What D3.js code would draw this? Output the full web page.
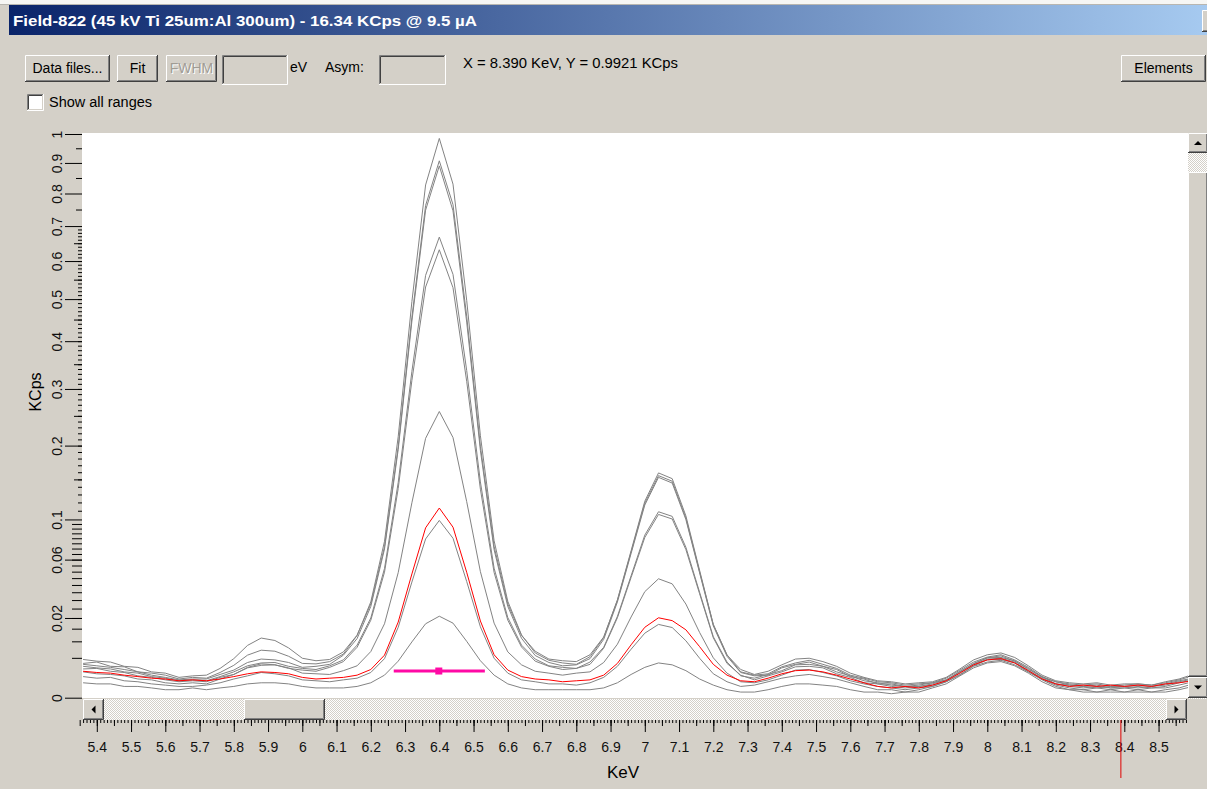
<!DOCTYPE html>
<html>
<head>
<meta charset="utf-8">
<title>Field-822 spectrum</title>
<script src="https://d3js.org/d3.v7.min.js"></script>
<style>
  body { margin: 0; background: #d4d0c8; overflow: hidden; }
  svg { display: block; font-family: "Liberation Sans", Arial, sans-serif; }
</style>
</head>
<body>
<svg id="drawing_region"></svg>
<script>
// channel energies (KeV)
const energies = [
  5.36,5.40,5.44,5.48,5.52,5.56,5.60,5.64,5.68,5.72,
  5.76,5.80,5.84,5.88,5.92,5.96,6.00,6.04,6.08,6.12,
  6.16,6.20,6.24,6.28,6.32,6.36,6.40,6.44,6.48,6.52,
  6.56,6.60,6.64,6.68,6.72,6.76,6.80,6.84,6.88,6.92,
  6.96,7.00,7.04,7.08,7.12,7.16,7.20,7.24,7.28,7.32,
  7.36,7.40,7.44,7.48,7.52,7.56,7.60,7.64,7.68,7.72,
  7.76,7.80,7.84,7.88,7.92,7.96,8.00,8.04,8.08,8.12,
  8.16,8.20,8.24,8.28,8.32,8.36,8.40,8.44,8.48,8.52,
  8.56,8.60
];

// count rates (KCps) of the spectra
const spectrumA = [
  0.0037,0.0040,0.0031,0.0030,0.0021,0.0019,0.0016,0.0011,0.0013,0.0012,
  0.0020,0.0033,0.0057,0.0071,0.0068,0.0054,0.0037,0.0036,0.0041,0.0060,
  0.0122,0.0289,0.0770,0.2143,0.4939,0.8274,0.9844,0.8300,0.4970,0.2160,
  0.0775,0.0292,0.0124,0.0063,0.0044,0.0038,0.0035,0.0053,0.0114,0.0301,
  0.0680,0.1215,0.1590,0.1510,0.1040,0.0510,0.0169,0.0058,0.0021,0.0016,
  0.0018,0.0030,0.0038,0.0044,0.0035,0.0027,0.0016,0.0012,0.0008,0.0007,
  0.0005,0.0006,0.0007,0.0012,0.0024,0.0040,0.0052,0.0058,0.0045,0.0029,
  0.0014,0.0008,0.0006,0.0005,0.0006,0.0004,0.0005,0.0006,0.0005,0.0007,
  0.0010,0.0015
];
const spectrumB1 = [
  0.0046,0.0042,0.0040,0.0031,0.0029,0.0021,0.0019,0.0013,0.0015,0.0016,
  0.0027,0.0048,0.0086,0.0112,0.0103,0.0078,0.0049,0.0043,0.0046,0.0066,
  0.0123,0.0277,0.0718,0.1982,0.4556,0.7626,0.9071,0.7650,0.4580,0.1990,
  0.0720,0.0276,0.0122,0.0068,0.0047,0.0043,0.0041,0.0058,0.0116,0.0298,
  0.0668,0.1190,0.1552,0.1475,0.1015,0.0500,0.0168,0.0057,0.0025,0.0017,
  0.0022,0.0034,0.0047,0.0049,0.0041,0.0031,0.0019,0.0013,0.0009,0.0008,
  0.0006,0.0007,0.0008,0.0013,0.0026,0.0045,0.0058,0.0063,0.0051,0.0032,
  0.0016,0.0009,0.0007,0.0006,0.0007,0.0005,0.0006,0.0006,0.0005,0.0008,
  0.0011,0.0017
];
const spectrumB2 = [
  0.0035,0.0032,0.0029,0.0025,0.0021,0.0016,0.0013,0.0010,0.0011,0.0011,
  0.0017,0.0024,0.0039,0.0047,0.0045,0.0039,0.0029,0.0031,0.0035,0.0057,
  0.0110,0.0262,0.0696,0.1938,0.4466,0.7482,0.8901,0.7460,0.4440,0.1925,
  0.0690,0.0262,0.0111,0.0056,0.0039,0.0032,0.0034,0.0048,0.0107,0.0288,
  0.0655,0.1168,0.1528,0.1450,0.0998,0.0490,0.0162,0.0054,0.0020,0.0015,
  0.0016,0.0028,0.0035,0.0040,0.0031,0.0025,0.0014,0.0011,0.0006,0.0006,
  0.0004,0.0005,0.0007,0.0010,0.0022,0.0036,0.0050,0.0051,0.0043,0.0025,
  0.0014,0.0006,0.0005,0.0004,0.0005,0.0003,0.0004,0.0005,0.0004,0.0006,
  0.0009,0.0012
];
const spectrumC1 = [
  0.0031,0.0028,0.0026,0.0021,0.0019,0.0014,0.0012,0.0009,0.0010,0.0009,
  0.0014,0.0021,0.0032,0.0038,0.0039,0.0031,0.0027,0.0025,0.0032,0.0045,
  0.0087,0.0200,0.0526,0.1457,0.3352,0.5613,0.6677,0.5640,0.3370,0.1465,
  0.0528,0.0202,0.0087,0.0047,0.0032,0.0029,0.0027,0.0040,0.0080,0.0208,
  0.0468,0.0832,0.1088,0.1035,0.0712,0.0350,0.0117,0.0040,0.0015,0.0012,
  0.0017,0.0023,0.0034,0.0035,0.0031,0.0021,0.0015,0.0009,0.0007,0.0005,
  0.0004,0.0004,0.0006,0.0010,0.0021,0.0037,0.0050,0.0055,0.0042,0.0027,
  0.0013,0.0008,0.0005,0.0004,0.0003,0.0004,0.0004,0.0003,0.0004,0.0005,
  0.0008,0.0011
];
const spectrumC2 = [
  0.0026,0.0027,0.0022,0.0020,0.0015,0.0013,0.0010,0.0008,0.0009,0.0008,
  0.0013,0.0017,0.0028,0.0033,0.0034,0.0027,0.0024,0.0022,0.0029,0.0041,
  0.0080,0.0189,0.0496,0.1376,0.3169,0.5308,0.6314,0.5290,0.3150,0.1368,
  0.0494,0.0189,0.0081,0.0042,0.0031,0.0025,0.0027,0.0035,0.0077,0.0201,
  0.0455,0.0808,0.1057,0.1005,0.0690,0.0340,0.0113,0.0037,0.0016,0.0010,
  0.0015,0.0021,0.0030,0.0031,0.0028,0.0018,0.0013,0.0007,0.0006,0.0004,
  0.0003,0.0004,0.0005,0.0009,0.0020,0.0034,0.0047,0.0049,0.0040,0.0023,
  0.0012,0.0006,0.0004,0.0003,0.0004,0.0003,0.0003,0.0004,0.0003,0.0004,
  0.0007,0.0010
];
const spectrumD = [
  0.0021,0.0018,0.0017,0.0015,0.0011,0.0010,0.0007,0.0006,0.0007,0.0006,
  0.0011,0.0017,0.0029,0.0036,0.0034,0.0028,0.0019,0.0018,0.0017,0.0023,
  0.0032,0.0067,0.0172,0.0492,0.1196,0.2117,0.2578,0.2130,0.1210,0.0500,
  0.0175,0.0066,0.0034,0.0022,0.0019,0.0016,0.0019,0.0021,0.0039,0.0090,
  0.0205,0.0354,0.0445,0.0408,0.0276,0.0134,0.0050,0.0019,0.0008,0.0007,
  0.0010,0.0016,0.0024,0.0025,0.0020,0.0015,0.0009,0.0006,0.0004,0.0003,
  0.0002,0.0003,0.0004,0.0008,0.0017,0.0032,0.0045,0.0046,0.0038,0.0021,
  0.0011,0.0005,0.0003,0.0002,0.0003,0.0002,0.0003,0.0002,0.0003,0.0003,
  0.0005,0.0008
];
const spectrumE = [
  0.0014,0.0012,0.0013,0.0009,0.0008,0.0006,0.0005,0.0004,0.0004,0.0005,
  0.0007,0.0011,0.0015,0.0020,0.0018,0.0015,0.0010,0.0009,0.0008,0.0010,
  0.0012,0.0020,0.0048,0.0156,0.0421,0.0793,0.0989,0.0800,0.0425,0.0158,
  0.0049,0.0019,0.0010,0.0008,0.0006,0.0006,0.0005,0.0007,0.0013,0.0031,
  0.0074,0.0131,0.0169,0.0155,0.0102,0.0049,0.0018,0.0008,0.0004,0.0005,
  0.0008,0.0012,0.0015,0.0017,0.0014,0.0011,0.0007,0.0004,0.0002,0.0002,
  0.0001,0.0002,0.0004,0.0008,0.0016,0.0031,0.0040,0.0044,0.0034,0.0021,
  0.0010,0.0004,0.0002,0.0002,0.0001,0.0002,0.0001,0.0002,0.0001,0.0002,
  0.0003,0.0006
];
const spectrumF = [
  0.0007,0.0006,0.0006,0.0004,0.0004,0.0003,0.0002,0.0002,0.0003,0.0002,
  0.0003,0.0004,0.0006,0.0007,0.0007,0.0006,0.0004,0.0003,0.0003,0.0003,
  0.0004,0.0007,0.0016,0.0042,0.0098,0.0172,0.0209,0.0175,0.0100,0.0043,
  0.0016,0.0006,0.0003,0.0002,0.0002,0.0002,0.0002,0.0002,0.0003,0.0007,
  0.0017,0.0029,0.0038,0.0034,0.0023,0.0011,0.0005,0.0002,0.0001,0.0001,
  0.0002,0.0004,0.0006,0.0006,0.0005,0.0004,0.0002,0.0001,0.0001,0.00005,
  0.0001,0.0001,0.0003,0.0006,0.0015,0.0028,0.0038,0.0041,0.0032,0.0019,
  0.0008,0.0003,0.0002,0.0001,0.0001,0.0001,0.0001,0.0001,0.0001,0.0001,
  0.0002,0.0004
];
// the selected spectrum, drawn in red
const spectrumSelected = [
  0.0022,0.0020,0.0019,0.0016,0.0014,0.0012,0.0011,0.0009,0.0010,0.0009,
  0.0011,0.0014,0.0018,0.0021,0.0020,0.0018,0.0013,0.0011,0.0012,0.0013,
  0.0016,0.0025,0.0057,0.0180,0.0482,0.0908,0.1132,0.0915,0.0495,0.0185,
  0.0058,0.0024,0.0014,0.0011,0.0010,0.0008,0.0009,0.0010,0.0016,0.0037,
  0.0088,0.0156,0.0201,0.0187,0.0145,0.0082,0.0035,0.0016,0.0009,0.0008,
  0.0012,0.0018,0.0023,0.0024,0.0021,0.0016,0.0011,0.0007,0.0004,0.0003,
  0.0004,0.0003,0.0005,0.0009,0.0019,0.0034,0.0045,0.0048,0.0038,0.0023,
  0.0011,0.0006,0.0004,0.0005,0.0004,0.0005,0.0004,0.0005,0.0004,0.0006,
  0.0007,0.0009
];
const graySpectra = [spectrumA, spectrumB1, spectrumB2, spectrumC1, spectrumC2, spectrumD, spectrumE, spectrumF];

// axis ticks
const yTickLabels = [0, 0.02, 0.06, 0.1, 0.2, 0.3, 0.4, 0.5, 0.6, 0.7, 0.8, 0.9, 1];
const xTickLabels = [5.4,5.5,5.6,5.7,5.8,5.9,6,6.1,6.2,6.3,6.4,6.5,6.6,6.7,6.8,6.9,7,7.1,7.2,7.3,7.4,7.5,7.6,7.7,7.8,7.9,8,8.1,8.2,8.3,8.4,8.5];

// fit range marker and cursor
const roiRange = [6.267, 6.533];
const roiCenter = 6.40;
const roiLevel = 0.00224;
const cursorKeV = 8.39;

const titleText = "Field-822 (45 kV Ti 25um:Al 300um) - 16.34 KCps @ 9.5 \u00b5A";
const readoutText = "X = 8.390 KeV, Y = 0.9921 KCps";

// ---------------------------------------------------------------
const face = '#d4d0c8';
const W = 1207, H = 789;
const plot = {left: 82, top: 133, right: 1188, bottom: 698};
const uiFont = '14px';

const svg = d3.select('#drawing_region')
    .attr('width', W)
    .attr('height', H);

const defs = svg.append('defs');
const grad = defs.append('linearGradient').attr('id', 'titleGrad')
    .attr('x1', 0).attr('x2', 1).attr('y1', 0).attr('y2', 0);
grad.append('stop').attr('offset', '0%').attr('stop-color', '#0a246a');
grad.append('stop').attr('offset', '100%').attr('stop-color', '#a6caf0');

const dither = defs.append('pattern').attr('id', 'dither')
    .attr('width', 2).attr('height', 2).attr('patternUnits', 'userSpaceOnUse');
dither.append('rect').attr('width', 2).attr('height', 2).attr('fill', '#ffffff');
dither.append('rect').attr('width', 1).attr('height', 1).attr('fill', face);
dither.append('rect').attr('x', 1).attr('y', 1).attr('width', 1).attr('height', 1).attr('fill', face);

defs.append('clipPath').attr('id', 'plotClip')
  .append('rect')
    .attr('x', plot.left).attr('y', plot.top)
    .attr('width', plot.right - plot.left).attr('height', plot.bottom - plot.top);

svg.append('rect').attr('width', W).attr('height', H).attr('fill', face);

// 3D box like the classic Windows controls
function bevel(g, x, y, w, h, sunken) {
    const light = sunken ? '#808080' : '#ffffff';
    const dark = sunken ? '#ffffff' : '#404040';
    const mid = sunken ? '#404040' : '#808080';
    g.append('rect').attr('x', x).attr('y', y).attr('width', w).attr('height', h).attr('fill', face);
    g.append('path').attr('fill', 'none').attr('stroke', light)
        .attr('d', `M${x + 0.5},${y + h - 1} V${y + 0.5} H${x + w - 1}`);
    g.append('path').attr('fill', 'none').attr('stroke', dark)
        .attr('d', `M${x},${y + h - 0.5} H${x + w - 0.5} V${y}`);
    if (sunken) {
        g.append('path').attr('fill', 'none').attr('stroke', mid)
            .attr('d', `M${x + 1.5},${y + h - 2} V${y + 1.5} H${x + w - 2}`);
    } else {
        g.append('path').attr('fill', 'none').attr('stroke', mid)
            .attr('d', `M${x + 1},${y + h - 1.5} H${x + w - 1.5} V${y + 1}`);
    }
}

function arrowButton(g, x, y, w, h, dir) {
    bevel(g, x, y, w, h, false);
    const cx = x + w / 2, cy = y + h / 2;
    let d;
    if (dir === 'left') d = `M${cx - 2},${cy} L${cx + 2},${cy - 4} L${cx + 2},${cy + 4} Z`;
    if (dir === 'right') d = `M${cx + 2},${cy} L${cx - 2},${cy - 4} L${cx - 2},${cy + 4} Z`;
    if (dir === 'up') d = `M${cx},${cy - 2} L${cx - 4},${cy + 2} L${cx + 4},${cy + 2} Z`;
    if (dir === 'down') d = `M${cx},${cy + 2} L${cx - 4},${cy - 2} L${cx + 4},${cy - 2} Z`;
    g.append('path').attr('d', d).attr('fill', '#000');
}

// title bar
const ui = svg.append('g');
ui.append('rect').attr('x', 0).attr('y', 0).attr('width', W).attr('height', 5).attr('fill', '#f6f6f4');
ui.append('line').attr('x1', 0).attr('x2', W).attr('y1', 4.5).attr('y2', 4.5).attr('stroke', '#b8b6b0');
ui.append('rect').attr('x', 9).attr('y', 5).attr('width', W - 9).attr('height', 30).attr('fill', 'url(#titleGrad)');
ui.append('text')
    .attr('x', 13).attr('y', 26)
    .attr('fill', '#ffffff')
    .attr('font-weight', 'bold')
    .attr('font-size', '15px')
    .attr('textLength', 464)
    .attr('lengthAdjust', 'spacingAndGlyphs')
    .text(titleText);
bevel(ui, 1202, 10, 14, 22, false);

// tool row
const buttons = [
    {label: 'Data files...', x: 25, w: 85},
    {label: 'Fit', x: 117, w: 41},
    {label: 'FWHM', x: 166, w: 51, disabled: true},
    {label: 'Elements', x: 1121, w: 85}
];
buttons.forEach(b => {
    bevel(ui, b.x, 55, b.w, 27, false);
    if (b.disabled) {
        ui.append('text').attr('x', b.x + b.w / 2 + 1).attr('y', 74)
            .attr('text-anchor', 'middle').attr('font-size', uiFont)
            .attr('fill', '#ffffff').text(b.label);
    }
    ui.append('text').attr('x', b.x + b.w / 2).attr('y', 73)
        .attr('text-anchor', 'middle').attr('font-size', uiFont)
        .attr('fill', b.disabled ? '#a09c94' : '#000').text(b.label);
});
bevel(ui, 222, 55, 66, 30, true);
bevel(ui, 379, 55, 67, 30, true);
ui.append('text').attr('x', 290).attr('y', 72).attr('font-size', uiFont).text('eV');
ui.append('text').attr('x', 325).attr('y', 72).attr('font-size', uiFont).text('Asym:');
ui.append('text').attr('x', 463).attr('y', 68).attr('font-size', uiFont)
    .attr('textLength', 215).attr('lengthAdjust', 'spacingAndGlyphs').text(readoutText);

// check box
bevel(ui, 27, 94, 17, 17, true);
ui.append('rect').attr('x', 29).attr('y', 96).attr('width', 13).attr('height', 13).attr('fill', '#ffffff');
ui.append('text').attr('x', 49).attr('y', 107).attr('font-size', uiFont)
    .attr('textLength', 103).attr('lengthAdjust', 'spacingAndGlyphs').text('Show all ranges');

// plot area
svg.append('rect')
    .attr('x', plot.left).attr('y', plot.top)
    .attr('width', plot.right - plot.left).attr('height', plot.bottom - plot.top)
    .attr('fill', '#ffffff');

const xscale = d3.scaleLinear()
    .domain([5.4, 8.5])
    .range([96.8, 96.8 + 3.1 * 342.5]);

const yscale = d3.scaleSqrt()
    .domain([0, 1])
    .range([697.7, 134]);

const line = d3.line()
    .x(d => xscale(d[0]))
    .y(d => yscale(d[1]));

const chart = svg.append('g').attr('clip-path', 'url(#plotClip)');

chart.selectAll('path.gray')
    .data(graySpectra)
    .join('path')
    .attr('class', 'gray')
    .attr('fill', 'none')
    .attr('stroke', '#838383')
    .attr('stroke-width', 1)
    .attr('d', s => line(energies.map((e, i) => [e, s[i]])));

chart.append('path')
    .attr('fill', 'none')
    .attr('stroke', '#ff0000')
    .attr('stroke-width', 1)
    .attr('d', line(energies.map((e, i) => [e, spectrumSelected[i]])));

// fit range marker
chart.append('line')
    .attr('x1', xscale(roiRange[0])).attr('x2', xscale(roiRange[1]))
    .attr('y1', yscale(roiLevel)).attr('y2', yscale(roiLevel))
    .attr('stroke', '#ff0aa5').attr('stroke-width', 3);
chart.append('rect')
    .attr('x', xscale(roiCenter) - 4).attr('y', yscale(roiLevel) - 3.5)
    .attr('width', 7).attr('height', 7)
    .attr('fill', '#ff0aa5');

// horizontal scroll bar
const hs = svg.append('g');
hs.append('rect').attr('x', 83).attr('y', 699).attr('width', 1104).attr('height', 21).attr('fill', 'url(#dither)');
arrowButton(hs, 83, 699, 21, 21, 'left');
bevel(hs, 244, 699, 81, 21, false);
arrowButton(hs, 1166, 699, 21, 21, 'right');

// vertical scroll bar
const vs = svg.append('g');
vs.append('rect').attr('x', 1188).attr('y', 133).attr('width', 20).attr('height', 566).attr('fill', 'url(#dither)');
arrowButton(vs, 1188, 133, 20, 20, 'up');
bevel(vs, 1188, 172, 20, 505, false);
arrowButton(vs, 1188, 677, 20, 21, 'down');
vs.append('rect').attr('x', 1188).attr('y', 699).attr('width', 20).attr('height', 21).attr('fill', face);

// y ruler
const yAxisG = svg.append('g').attr('transform', `translate(${plot.left},0)`);
function yTicks(values, size) {
    const g = yAxisG.append('g')
        .call(d3.axisLeft(yscale).tickValues(values).tickSize(size).tickFormat(''));
    g.select('.domain').remove();
    g.selectAll('line').attr('stroke', '#000');
    return g;
}
yTicks(d3.range(0.005, 0.1, 0.005), 10);
yTicks(d3.range(0.11, 0.7, 0.01), 4);
yTicks([0.15, 0.25, 0.35, 0.45, 0.55, 0.65], 8);
yTicks([0.75, 0.85, 0.95], 6);
const yMajor = yAxisG.append('g')
    .call(d3.axisLeft(yscale).tickValues(yTickLabels).tickSize(17)
        .tickFormat(d => String(d)));
yMajor.select('.domain').remove();
yMajor.selectAll('line').attr('stroke', '#000');
yMajor.selectAll('text')
    .attr('transform', 'rotate(-90)')
    .attr('x', 0)
    .attr('y', -20)
    .attr('dy', null)
    .attr('text-anchor', 'middle')
    .attr('fill', '#111')
    .attr('font-size', '14px')
    .attr('font-family', '"Liberation Sans", Arial, sans-serif');

svg.append('text')
    .attr('transform', 'translate(41,392) rotate(-90)')
    .attr('text-anchor', 'middle')
    .attr('font-size', '16px')
    .text('KCps');

// x ruler
const xAxisG = svg.append('g').attr('transform', 'translate(0,720)');
function xTicks(values, size) {
    const g = xAxisG.append('g')
        .call(d3.axisBottom(xscale).tickValues(values).tickSize(size).tickFormat(''));
    g.select('.domain').remove();
    g.selectAll('line').attr('stroke', '#000');
}
xTicks(d3.range(536, 859).map(d => d / 100), 3);
xTicks(d3.range(107, 172).map(d => d / 20), 6);
const xMajor = xAxisG.append('g')
    .call(d3.axisBottom(xscale).tickValues(xTickLabels).tickSize(12).tickPadding(10)
        .tickFormat(d => String(d)));
xMajor.select('.domain').remove();
xMajor.selectAll('line').attr('stroke', '#000');
xMajor.selectAll('text')
    .attr('fill', '#111')
    .attr('font-size', '14px')
    .attr('font-family', '"Liberation Sans", Arial, sans-serif');

svg.append('text')
    .attr('x', 623).attr('y', 778)
    .attr('text-anchor', 'middle')
    .attr('font-size', '17px')
    .text('KeV');

// cursor mark on the ruler
svg.append('line')
    .attr('x1', xscale(cursorKeV)).attr('x2', xscale(cursorKeV))
    .attr('y1', 720).attr('y2', 778)
    .attr('stroke', '#e00000').attr('stroke-width', 1);
</script>
</body>
</html>
